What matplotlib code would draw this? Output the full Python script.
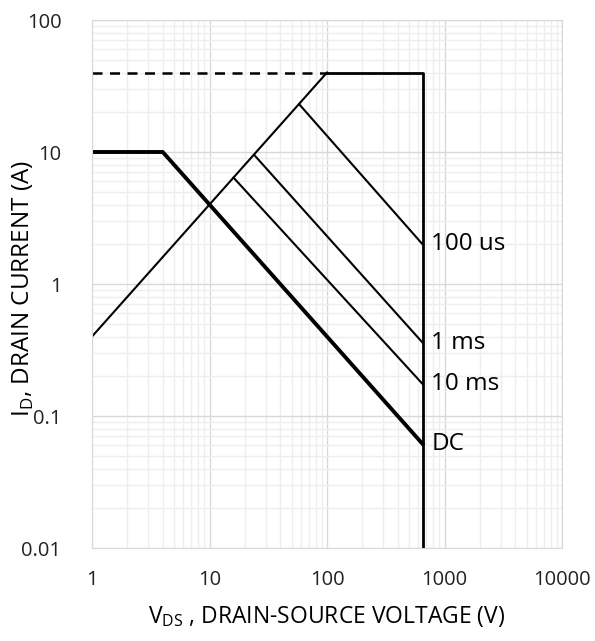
import matplotlib
matplotlib.use("Agg")
import matplotlib.pyplot as plt

# safe operating area curves (V, A)
rds_v = [1, 100]
rds_i = [0.4, 40]
pulse_lim_v = [1, 100]
pulse_lim_i = [40, 40]
box_v = [100, 650, 650]
box_i = [40, 40, 0.01]
dc_v = [1, 4, 650]
dc_i = [10, 10, 0.0615]
ms10_v = [16, 650]
ms10_i = [6.4, 0.175]
ms1_v = [24, 650]
ms1_i = [9.5, 0.36]
us100_v = [58, 650]
us100_i = [23, 2.0]

labels = ["100 us", "1 ms", "10 ms", "DC"]
label_i = [2.0, 0.36, 0.175, 0.0615]
label_v = 770

x_ticks = [1, 10, 100, 1000, 10000]
y_ticks = [0.01, 0.1, 1, 10, 100]

plt.rcParams["font.family"] = ["Open Sans", "DejaVu Sans"]

fig = plt.figure(figsize=(5.95, 6.41), dpi=100)
ax = fig.add_axes([92 / 595, 1 - 548 / 641, 470 / 595, 528 / 641])

ax.set_xscale("log")
ax.set_yscale("log")
ax.set_xlim(1, 10000)
ax.set_ylim(0.01, 100)

ax.grid(which="major", color="#d9d9d9", lw=1.0)
ax.grid(which="minor", color="#eeeeee", lw=1.0)
ax.set_axisbelow(True)
for s in ax.spines.values():
    s.set_color("#d9d9d9")

ax.plot(pulse_lim_v, pulse_lim_i, color="black", lw=1.8, ls=(0, (4, 3)))
ax.plot(rds_v, rds_i, color="black", lw=1.5)
ax.plot(box_v, box_i, color="black", lw=2.0)
ax.plot(dc_v, dc_i, color="black", lw=2.8)
ax.plot(ms10_v, ms10_i, color="black", lw=1.5)
ax.plot(ms1_v, ms1_i, color="black", lw=1.5)
ax.plot(us100_v, us100_i, color="black", lw=1.5)

for txt, yi in zip(labels, label_i):
    ax.text(label_v, yi, txt, fontsize=17.5, va="center", ha="left")

ax.set_xticks(x_ticks)
ax.set_xticklabels([str(v) for v in x_ticks])
ax.set_yticks(y_ticks)
ax.set_yticklabels(["0.01", "0.1", "1", "10", "100"])
ax.tick_params(which="both", length=0, labelsize=14.5, colors="#222222")
ax.tick_params(axis="x", pad=16)
ax.tick_params(axis="y", pad=22)

ax.set_xlabel(r"V$_\mathregular{DS}$ , DRAIN-SOURCE VOLTAGE (V)", fontsize=16.5, va="center")
ax.set_ylabel(r"I$_\mathregular{D}$, DRAIN CURRENT (A)", fontsize=17.5, va="center")
ax.xaxis.set_label_coords(0.5, -0.13)
ax.yaxis.set_label_coords(-0.145, 0.492)

fig.savefig("out.png", dpi=100)
